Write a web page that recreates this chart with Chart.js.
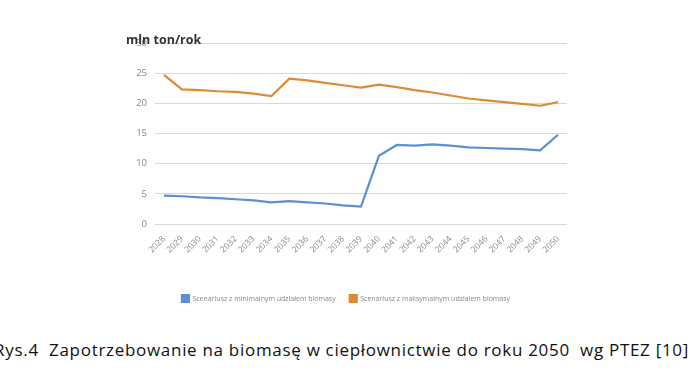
<!DOCTYPE html>
<html>
<head>
<meta charset="utf-8">
<script src="https://cdn.jsdelivr.net/npm/chart.js@4/dist/chart.umd.min.js"></script>
<style>
    body { margin: 0; background: #fff; width: 696px; height: 385px; overflow: hidden; position: relative; }
    #wrap { position: absolute; left: 0; top: 0; width: 696px; height: 312px; }
    #unit { position: absolute; left: 126px; top: 31px; font: bold 12.5px "Open Sans", sans-serif; color: #333; }
    #caption { position: absolute; left: -6px; top: 338px; font: 17px "Open Sans", sans-serif; letter-spacing: 0.7px; color: #111; white-space: pre; }
</style>
</head>
<body>
<div id="wrap"><canvas id="biomassChart"></canvas></div>
<div id="unit">mln ton/rok</div>
<div id="caption">Rys.4  Zapotrzebowanie na biomasę w ciepłownictwie do roku 2050  wg PTEZ [10]</div>
<script>
const years = ['2028', '2029', '2030', '2031', '2032', '2033', '2034', '2035', '2036', '2037', '2038', '2039',
    '2040', '2041', '2042', '2043', '2044', '2045', '2046', '2047', '2048', '2049', '2050'];
const minScenario = [4.7, 4.6, 4.4, 4.3, 4.1, 3.9, 3.6, 3.8, 3.6, 3.4, 3.1, 2.9,
    11.3, 13.1, 13.0, 13.2, 13.0, 12.7, 12.6, 12.5, 12.4, 12.2, 14.8];
const maxScenario = [24.7, 22.3, 22.2, 22.0, 21.9, 21.6, 21.2, 24.1, 23.8, 23.4, 23.0, 22.6,
    23.1, 22.7, 22.2, 21.8, 21.3, 20.8, 20.5, 20.2, 19.9, 19.6, 20.2];
const yTicks = [0, 5, 10, 15, 20, 25, 30];

const ctx = document.getElementById('biomassChart');
new Chart(ctx, {
    type: 'line',
    data: {
        labels: years,
        datasets: [{
            label: 'Scenariusz z minimalnym udziałem biomasy',
            data: minScenario,
            borderColor: '#5b8fd6',
            backgroundColor: '#5b8fd6',
            borderWidth: 2.2,
            pointRadius: 0,
            tension: 0
        }, {
            label: 'Scenariusz z maksymalnym udziałem biomasy',
            data: maxScenario,
            borderColor: '#df8a36',
            backgroundColor: '#df8a36',
            borderWidth: 2.2,
            pointRadius: 0,
            tension: 0
        }]
    },
    options: {
        responsive: true,
        maintainAspectRatio: false,
        animation: false,
        layout: { padding: { left: 125, right: 129, top: 43, bottom: 0 } },
        plugins: {
            legend: {
                position: 'bottom',
                labels: {
                    boxWidth: 7,
                    boxHeight: 7,
                    padding: 14,
                    color: '#888',
                    font: { family: 'Open Sans', size: 7 }
                }
            },
            tooltip: { enabled: false }
        },
        scales: {
            x: {
                offset: true,
                grid: { display: false },
                border: { display: false },
                ticks: {
                    color: '#888',
                    font: { family: 'Open Sans', size: 8.5 },
                    maxRotation: 45,
                    minRotation: 45,
                    autoSkip: false,
                    padding: 2
                },
                afterFit: (scale) => { scale.height = 57; }
            },
            y: {
                min: 0,
                max: 30,
                afterBuildTicks: (scale) => { scale.ticks = yTicks.map(v => ({ value: v })); },
                grid: { color: '#d9d9d9', lineWidth: 1, drawTicks: false },
                border: { display: false },
                ticks: {
                    color: '#888',
                    font: { family: 'Open Sans', size: 9.5 },
                    padding: 8
                },
                afterFit: (scale) => { scale.width = 30; }
            }
        }
    }
});
</script>
</body>
</html>
